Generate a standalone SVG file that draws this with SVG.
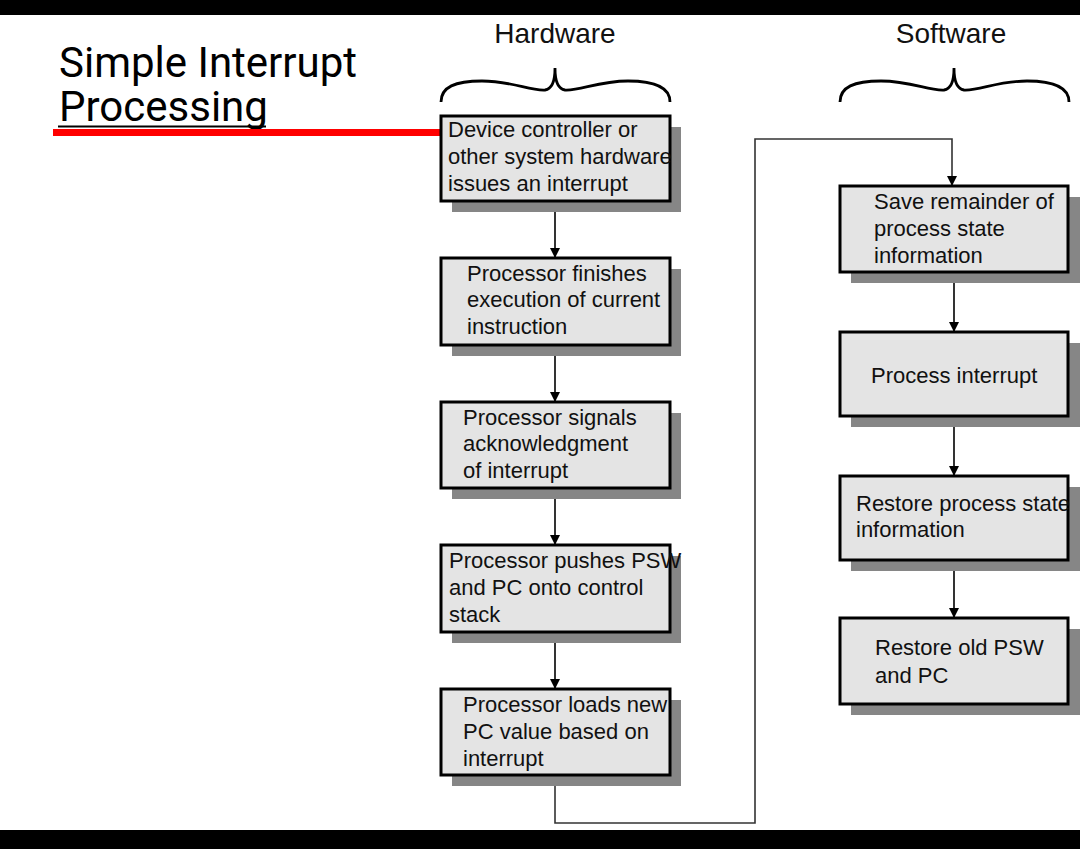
<svg xmlns="http://www.w3.org/2000/svg" width="1080" height="849" viewBox="0 0 1080 849">
<defs>
<style>
.bg{fill:#ffffff}
.bar{fill:#000000}
.shadow{fill:#868686}
.box{fill:#e4e4e4;stroke:#000;stroke-width:3}
.t{font-family:"Liberation Sans",Arial,sans-serif;font-size:22px;fill:#111}
.head{font-family:"Liberation Sans",Arial,sans-serif;font-size:28px;fill:#111}
.title{font-family:Roboto,"Liberation Sans",sans-serif;font-size:42px;fill:#000}
.brace{fill:none;stroke:#000;stroke-width:2.8}
.conn{fill:none;stroke:#000;stroke-width:1.6}
.loop{fill:none;stroke:#333;stroke-width:1.6}
</style>
<marker id="arr" viewBox="0 0 10 10" refX="10" refY="5" markerWidth="10" markerHeight="10" markerUnits="userSpaceOnUse" orient="auto">
<path d="M0,0 L10,5 L0,10 Z" fill="#000"/>
</marker>
</defs>
<rect class="bg" x="0" y="0" width="1080" height="849"/>
<rect class="bar" x="0" y="0" width="1080" height="15"/>
<rect class="bar" x="0" y="830" width="1080" height="19"/>

<g id="title">
<text class="title"><tspan x="59" y="77">Simple Interrupt</tspan><tspan x="59" y="121">Processing</tspan></text>
<rect x="58" y="125.5" width="208" height="2" fill="#000"/>
<rect x="53" y="129" width="389" height="7" fill="#ff0000"/>
</g>

<g id="hardware-label">
<text class="head" x="555" y="43" text-anchor="middle">Hardware</text>
<path class="brace" d="M441,102 C441,87 455,81 482,81 C512,81 530,91 545,90 C552,89 555,80 555,68 C555,80 558,89 565,90 C580,91 598,81 628,81 C655,81 670,87 670,102"/>
</g>
<g id="software-label">
<text class="head" x="951" y="43" text-anchor="middle">Software</text>
<path class="brace" d="M840,102 C840,87 854,81 881,81 C911,81 929,91 944,90 C951,89 954,80 954,68 C954,80 957,89 964,90 C979,91 997,81 1027,81 C1054,81 1069,87 1069,102"/>
</g>

<g id="connectors">
<line class="conn" x1="555" y1="201" x2="555" y2="258" marker-end="url(#arr)"/>
<line class="conn" x1="555" y1="345" x2="555" y2="402" marker-end="url(#arr)"/>
<line class="conn" x1="555" y1="488" x2="555" y2="545" marker-end="url(#arr)"/>
<line class="conn" x1="555" y1="632" x2="555" y2="689" marker-end="url(#arr)"/>
<polyline class="loop" points="555,775 555,823 755,823 755,139 952,139 952,186" marker-end="url(#arr)"/>
<line class="conn" x1="954" y1="272" x2="954" y2="332" marker-end="url(#arr)"/>
<line class="conn" x1="954" y1="416" x2="954" y2="476" marker-end="url(#arr)"/>
<line class="conn" x1="954" y1="560" x2="954" y2="618" marker-end="url(#arr)"/>
</g>

<g id="hw1">
<rect class="shadow" x="452" y="127" width="229" height="85"/>
<rect class="box" x="441" y="116" width="229" height="85"/>
<text class="t" x="448" y="137">Device controller or</text>
<text class="t" x="448" y="164">other system hardware</text>
<text class="t" x="448" y="191">issues an interrupt</text>
</g>
<g id="hw2">
<rect class="shadow" x="452" y="269" width="229" height="87"/>
<rect class="box" x="441" y="258" width="229" height="87"/>
<text class="t" x="467" y="281">Processor finishes</text>
<text class="t" x="467" y="307">execution of current</text>
<text class="t" x="467" y="334">instruction</text>
</g>
<g id="hw3">
<rect class="shadow" x="452" y="413" width="229" height="86"/>
<rect class="box" x="441" y="402" width="229" height="86"/>
<text class="t" x="463" y="425">Processor signals</text>
<text class="t" x="463" y="451">acknowledgment</text>
<text class="t" x="463" y="478">of interrupt</text>
</g>
<g id="hw4">
<rect class="shadow" x="452" y="556" width="229" height="87"/>
<rect class="box" x="441" y="545" width="229" height="87"/>
<text class="t" x="449" y="568">Processor pushes PSW</text>
<text class="t" x="449" y="595">and PC onto control</text>
<text class="t" x="449" y="622">stack</text>
</g>
<g id="hw5">
<rect class="shadow" x="452" y="700" width="229" height="86"/>
<rect class="box" x="441" y="689" width="229" height="86"/>
<text class="t" x="463" y="712">Processor loads new</text>
<text class="t" x="463" y="739">PC value based on</text>
<text class="t" x="463" y="766">interrupt</text>
</g>

<g id="sw1">
<rect class="shadow" x="851" y="197" width="229" height="86"/>
<rect class="box" x="840" y="186" width="228" height="86"/>
<text class="t" x="874" y="209">Save remainder of</text>
<text class="t" x="874" y="236">process state</text>
<text class="t" x="874" y="263">information</text>
</g>
<g id="sw2">
<rect class="shadow" x="851" y="343" width="229" height="84"/>
<rect class="box" x="840" y="332" width="228" height="84"/>
<text class="t" x="871" y="383">Process interrupt</text>
</g>
<g id="sw3">
<rect class="shadow" x="851" y="487" width="229" height="84"/>
<rect class="box" x="840" y="476" width="228" height="84"/>
<text class="t" x="856" y="511">Restore process state</text>
<text class="t" x="856" y="537">information</text>
</g>
<g id="sw4">
<rect class="shadow" x="851" y="629" width="229" height="86"/>
<rect class="box" x="840" y="618" width="228" height="86"/>
<text class="t" x="875" y="655">Restore old PSW</text>
<text class="t" x="875" y="683">and PC</text>
</g>
</svg>
